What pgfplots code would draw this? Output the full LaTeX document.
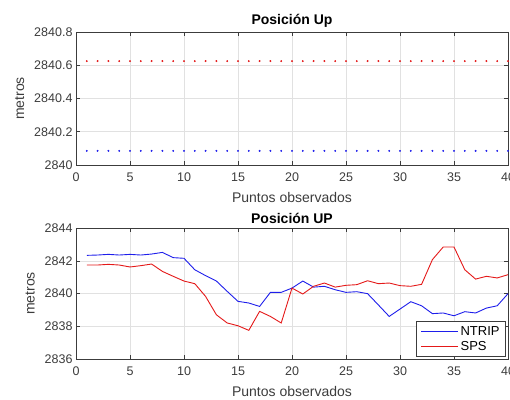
\documentclass[border=0pt]{standalone}
\usepackage{pgfplots}
\pgfplotsset{compat=1.18}
\usepackage{fontspec}
\setmainfont{Liberation Sans}
\definecolor{axgray}{RGB}{60,60,60}
\definecolor{gridgray}{RGB}{225,225,225}
\definecolor{mblue}{RGB}{30,30,235}
\definecolor{mred}{RGB}{228,25,25}
\pgfplotsset{
  mstyle/.style={
    scale only axis, width=432pt, height=133pt,
    xmin=0, xmax=40, xtick={0,5,...,40},
    grid=major, major grid style={gridgray, line width=0.5pt},
    axis line style={axgray, line width=0.6pt},
    tick style={axgray, line width=0.5pt},
    major tick length=4pt,
    tick align=inside,
    xtick pos=both, ytick pos=both,
    ticklabel style={font=\fontsize{12.5}{14}\selectfont, text=axgray},
    xticklabel style={yshift=-4pt},
    /pgf/number format/assume math mode=true,
    /pgf/number format/1000 sep={},
    xlabel style={font=\fontsize{14}{16}\selectfont, text=axgray, yshift=-4pt},
    ylabel style={font=\fontsize{14}{16}\selectfont, text=axgray, yshift=3pt},
    title style={font=\bfseries\fontsize{14}{16}\selectfont, yshift=-5pt},
    xlabel={Puntos observados}, ylabel={metros},
  }
}
\begin{document}
\begin{tikzpicture}[x=1pt,y=1pt]
\useasboundingbox (0,0) rectangle (510,-399);
\begin{axis}[mstyle, at={(76pt,-32pt)}, anchor=north west,
  title={Posición Up},
  ymin=2840, ymax=2840.8,
  ytick={2840,2840.2,2840.4,2840.6,2840.8},
  yticklabels={2840,2840.2,2840.4,2840.6,2840.8},
]
\addplot[only marks, mark=*, mark size=0.75pt, mred] table {
x y
1 2840.625
2 2840.625
3 2840.625
4 2840.625
5 2840.625
6 2840.625
7 2840.625
8 2840.625
9 2840.625
10 2840.625
11 2840.625
12 2840.625
13 2840.625
14 2840.625
15 2840.625
16 2840.625
17 2840.625
18 2840.625
19 2840.625
20 2840.625
21 2840.625
22 2840.625
23 2840.625
24 2840.625
25 2840.625
26 2840.625
27 2840.625
28 2840.625
29 2840.625
30 2840.625
31 2840.625
32 2840.625
33 2840.625
34 2840.625
35 2840.625
36 2840.625
37 2840.625
38 2840.625
39 2840.625
40 2840.625
};
\addplot[only marks, mark=*, mark size=0.75pt, mblue] table {
x y
1 2840.085
2 2840.085
3 2840.085
4 2840.085
5 2840.085
6 2840.085
7 2840.085
8 2840.085
9 2840.085
10 2840.085
11 2840.085
12 2840.085
13 2840.085
14 2840.085
15 2840.085
16 2840.085
17 2840.085
18 2840.085
19 2840.085
20 2840.085
21 2840.085
22 2840.085
23 2840.085
24 2840.085
25 2840.085
26 2840.085
27 2840.085
28 2840.085
29 2840.085
30 2840.085
31 2840.085
32 2840.085
33 2840.085
34 2840.085
35 2840.085
36 2840.085
37 2840.085
38 2840.085
39 2840.085
40 2840.085
};
\end{axis}
\begin{axis}[mstyle, at={(76pt,-228pt)}, anchor=north west,
  height=131pt,
  title={Posición UP},
  ymin=2836, ymax=2844, ytick={2836,2838,...,2844},
  legend style={at={(1,0)}, anchor=south east, xshift=-2pt, yshift=2pt,
    font=\fontsize{13}{15}\selectfont, draw=axgray, line width=0.8pt,
    inner xsep=4pt, inner ysep=3pt, row sep=0pt,
    nodes={inner sep=2pt}},
  legend cell align=left,
  legend image code/.code={\draw[#1, line width=1.2pt] (0pt,0pt) -- (37pt,0pt);},
]
\addplot[mblue, line width=0.9pt] table {
x y
1 2842.33
2 2842.35
3 2842.39
4 2842.35
5 2842.39
6 2842.35
7 2842.41
8 2842.51
9 2842.19
10 2842.15
11 2841.45
12 2841.09
13 2840.76
14 2840.13
15 2839.52
16 2839.42
17 2839.21
18 2840.07
19 2840.07
20 2840.33
21 2840.76
22 2840.39
23 2840.44
24 2840.23
25 2840.07
26 2840.11
27 2839.99
28 2839.30
29 2838.60
30 2839.05
31 2839.50
32 2839.25
33 2838.77
34 2838.81
35 2838.64
36 2838.89
37 2838.81
38 2839.11
39 2839.25
40 2839.99
};
\addlegendentry{NTRIP}
\addplot[mred, line width=0.9pt] table {
x y
1 2841.74
2 2841.74
3 2841.78
4 2841.74
5 2841.62
6 2841.70
7 2841.80
8 2841.35
9 2841.05
10 2840.76
11 2840.60
12 2839.82
13 2838.70
14 2838.20
15 2838.03
16 2837.75
17 2838.91
18 2838.60
19 2838.20
20 2840.33
21 2839.97
22 2840.44
23 2840.64
24 2840.39
25 2840.50
26 2840.54
27 2840.78
28 2840.60
29 2840.64
30 2840.48
31 2840.44
32 2840.56
33 2842.07
34 2842.84
35 2842.84
36 2841.45
37 2840.88
38 2841.05
39 2840.95
40 2841.15
};
\addlegendentry{SPS}
\end{axis}
\end{tikzpicture}
\end{document}
